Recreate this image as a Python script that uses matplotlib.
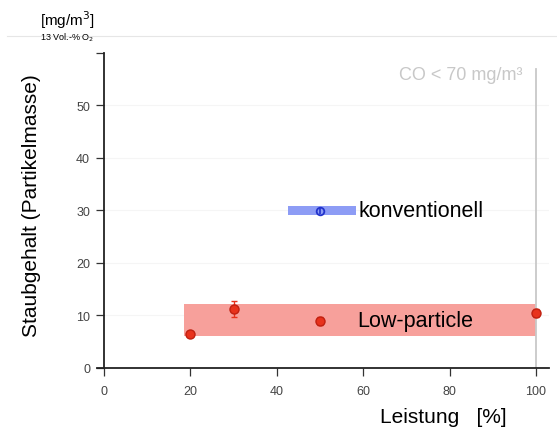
import numpy as np
import matplotlib.pyplot as plt
from matplotlib.lines import Line2D

plt.rcParams['font.family'] = ['Liberation Sans', 'DejaVu Sans']

# Data
low_x = [20, 30, 50, 100]
low_y = [6.5, 11.2, 8.9, 10.5]
low_err = [0.3, 1.5, 0.8, 0.8]
low_band_x = [18.5, 100]
low_band_y = [6.1, 12.2]

conv_x = [50]
conv_y = [29.9]
conv_err = [0.6]
conv_band_x = [42.5, 58.3]
conv_band_y = [29.1, 30.8]

yticks = [0, 10, 20, 30, 40, 50]
xticks = [0, 20, 40, 60, 80, 100]

fig = plt.figure(figsize=(5.57, 4.31), dpi=100)
ax = fig.add_axes([0.175, 0.1439, 0.8106, 0.7297])
ax.set_xlim(-1.5, 103)
ax.set_ylim(0, 59.8)

# faint grid
for v in yticks[1:]:
    ax.axhline(v, color='#f5f5f5', lw=0.8, zorder=0)

# bands
ax.fill_between(low_band_x, low_band_y[0], low_band_y[1], color='#f7a09b', lw=0, zorder=1)
ax.fill_between(conv_band_x, conv_band_y[0], conv_band_y[1], color='#8d9cf5', lw=0, zorder=1)

# CO limit line
ax.plot([100, 100], [0, 56.8], color='#c8c8c8', lw=1.3, zorder=1)

# points
ax.errorbar(low_x, low_y, yerr=low_err, fmt='o', ms=6.5, mfc='#e8321c', mec='#c02010',
            ecolor='#e8321c', elinewidth=1, capsize=2.5, zorder=3)
ax.errorbar(conv_x, conv_y, yerr=conv_err, fmt='o', ms=5.5, mfc='none', mec='#2233cc',
            mew=1.3, ecolor='#2233cc', elinewidth=1.2, capsize=0, zorder=3)

ax.text(58.8, 29.9, 'konventionell', fontsize=15.5, va='center', ha='left', color='black')
ax.text(58.6, 9.1, 'Low-particle', fontsize=15.5, va='center', ha='left', color='black')
ax.text(96.9, 55.8, 'CO < 70 mg/m³', fontsize=13, va='center', ha='right', color='#c8c8c8')

# spines
for s in ['top', 'right']:
    ax.spines[s].set_visible(False)
ax.spines['left'].set_position(('data', 0))
ax.spines['left'].set_linewidth(1.3)
ax.spines['bottom'].set_linewidth(1.3)
ax.spines['left'].set_color('#222222')
ax.spines['bottom'].set_color('#222222')

ax.set_xticks(xticks)
ax.set_yticks(yticks)
ax.set_yticks([59.8], minor=True)
ax.tick_params(axis='both', direction='out', length=6, width=0.9, color='#333333',
               labelsize=9, labelcolor='#444444', pad=4)
ax.tick_params(axis='y', which='minor', direction='out', length=6, width=0.9, color='#333333')
ax.tick_params(axis='x', pad=6)

fig.text(0.057, 0.524, 'Staubgehalt (Partikelmasse)', rotation=90, fontsize=15,
         ha='center', va='center')
fig.text(0.796, 0.032, 'Leistung   [%]', fontsize=15, ha='center', va='center')
fig.text(0.121, 0.953, '[mg/m$^3$]', fontsize=11, ha='center', va='center')
fig.text(0.121, 0.913, '13 Vol.-% O$_2$', fontsize=6.5, ha='center', va='center')
fig.add_artist(Line2D([0.013, 1.0], [0.914, 0.914], color='#e6e6e6', lw=0.8,
                      transform=fig.transFigure, zorder=0))

fig.savefig('out.png', dpi=100)
